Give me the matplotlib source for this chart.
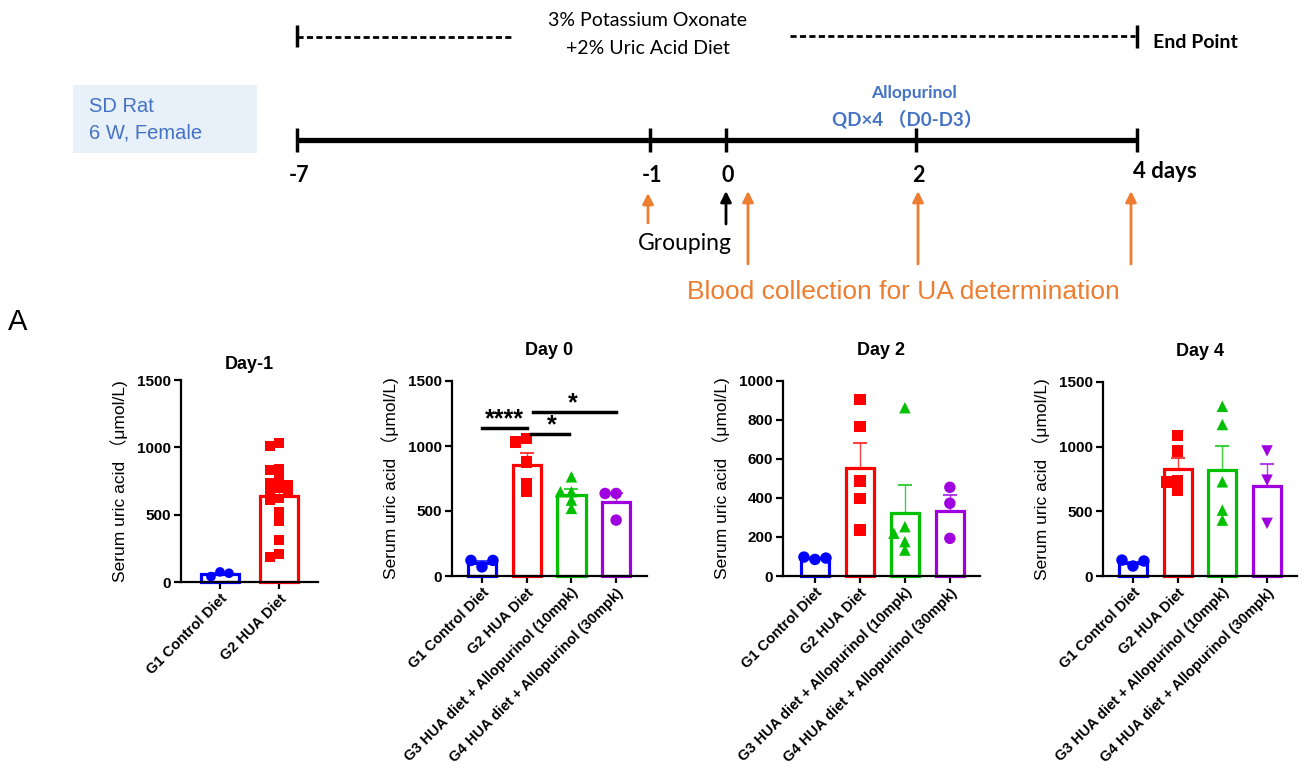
import numpy as np
import matplotlib
matplotlib.use('Agg')
import matplotlib.pyplot as plt
from matplotlib.patches import Rectangle

plt.rcParams['font.family'] = ['Liberation Sans', 'Noto Sans CJK SC', 'DejaVu Sans']

# ---------------- data ----------------
groups = ["G1 Control Diet", "G2 HUA Diet",
          "G3 HUA diet + Allopurinol (10mpk)", "G4 HUA diet + Allopurinol (30mpk)"]

dm1_points = [
    [75, 40, 65],
    [1030, 1010, 840, 830, 770, 740, 720, 700, 680, 660, 620, 610, 520, 450, 310, 210, 185],
]
dm1_mean = [60, 640]
dm1_sem = [10, 60]

d0_points = [
    [70, 120, 120],
    [1057, 1032, 878, 712, 648],
    [763, 648, 648, 584, 520],
    [635, 635, 430],
]
d0_mean = [97, 852, 622, 566]
d0_sem = [15, 95, 50, 69]

d2_points = [
    [85, 97, 92],
    [906, 766, 487, 398, 236],
    [863, 253, 219, 176, 133],
    [455, 373, 193],
]
d2_mean = [90, 556, 325, 333]
d2_sem = [4, 124, 142, 84]

d4_points = [
    [77, 123, 116],
    [1088, 967, 733, 728, 664],
    [1312, 1171, 728, 509, 432],
    [967, 741, 407],
]
d4_mean = [98, 826, 818, 697]
d4_sem = [14, 87, 185, 167]

titles = ["Day-1", "Day 0", "Day 2", "Day 4"]
ylabel = "Serum uric acid （μmol/L)"

colors = ['#0000FF', '#FF0000', '#00C000', '#A000E0']
markers_by_day = [['o', 's'], ['o', 's', '^', 'o'], ['o', 's', '^', 'o'], ['o', 's', '^', 'v']]

# ---------------- figure ----------------
W, H = 1307, 777
fig = plt.figure(figsize=(W / 100, H / 100), dpi=100)

# timeline / scheme axes in pixel coordinates
ax0 = fig.add_axes([0, 0, 1, 1])
ax0.set_xlim(0, W)
ax0.set_ylim(H, 0)
ax0.axis('off')

tl_font = ['Lato', 'Noto Sans CJK SC', 'DejaVu Sans']
orange = '#ED7D31'
blue_txt = '#4472C4'

# diet dashed bar
ax0.plot([297, 297], [25, 47], color='black', lw=2.5, solid_capstyle='butt')
ax0.plot([1137, 1137], [25, 48], color='black', lw=2.5, solid_capstyle='butt')
ax0.plot([297, 513], [37, 37], color='black', lw=2, ls=(0, (2.2, 1.2)))
ax0.plot([790, 1135], [36, 36], color='black', lw=2, ls=(0, (2.2, 1.2)))
ax0.text(648, 21, "3% Potassium Oxonate", ha='center', va='center', fontsize=14, family=tl_font)
ax0.text(648, 49, "+2% Uric Acid Diet", ha='center', va='center', fontsize=14, family=tl_font)
ax0.text(1153, 42, "End Point", ha='left', va='center', fontsize=14, fontweight='bold', family=tl_font)

# SD rat box
ax0.add_patch(Rectangle((73, 85), 184, 68, facecolor='#E8F0F9', edgecolor='none'))
ax0.text(89, 106, "SD Rat", ha='left', va='center', fontsize=14.5, color=blue_txt)
ax0.text(89, 133, "6 W, Female", ha='left', va='center', fontsize=14.5, color=blue_txt)

# main time line
ax0.plot([297, 1137], [140, 140], color='black', lw=3.8, solid_capstyle='butt')
tl_pos = [297, 650, 726, 916, 1137]
tl_lab = ["-7", "-1", "0", "2", "4 days"]
for xp, lab in zip(tl_pos, tl_lab):
    ax0.plot([xp, xp], [128, 152], color='black', lw=2.5, solid_capstyle='butt')
for xp, lab in zip(tl_pos, tl_lab):
    if lab == "4 days":
        ax0.text(xp - 4, 172, lab, ha='left', va='center', fontsize=16, fontweight='bold', family=tl_font)
    else:
        ax0.text(xp + 2, 176, lab, ha='center', va='center', fontsize=15.5, fontweight='bold', family=tl_font)

ax0.text(914, 93, "Allopurinol", ha='center', va='center', fontsize=12.5, fontweight='bold',
         color=blue_txt, family=tl_font)
ax0.text(907, 119, "QD×4 （D0-D3）", ha='center', va='center', fontsize=13.5, fontweight='bold',
         color=blue_txt, family=tl_font)

# arrows
def arrow(x, y0, y1, c, lw=2):
    ax0.annotate('', xy=(x, y1), xytext=(x, y0),
                 arrowprops=dict(arrowstyle='-|>', color=c, lw=lw, mutation_scale=16,
                                 shrinkA=0, shrinkB=0))

arrow(648, 223, 193, orange)
arrow(726, 224, 191, 'black')
arrow(748, 264, 191, orange)
arrow(918, 264, 191, orange)
arrow(1131, 264, 191, orange)
ax0.text(685, 243, "Grouping", ha='center', va='center', fontsize=16.5, family=tl_font)
ax0.text(903, 292, "Blood collection for UA determination", ha='center', va='center',
         fontsize=19, color=orange)
ax0.text(8, 322, "A", ha='left', va='center', fontsize=21)

# ---------------- panels ----------------
panel_px = [  # left, top, right, bottom (pixels)
    (181, 380, 318, 582),
    (452, 381, 647, 576),
    (783, 381, 980, 576),
    (1103, 382, 1297, 576),
]
xlims = [(-0.66, 1.66), (-0.67, 3.69), (-0.71, 3.67), (-0.67, 3.67)]
ylims = [1500, 1500, 1000, 1500]
ysteps = [500, 500, 200, 500]
title_pads = [8, 19, 19, 19]
all_points = [dm1_points, d0_points, d2_points, d4_points]
all_means = [dm1_mean, d0_mean, d2_mean, d4_mean]
all_sems = [dm1_sem, d0_sem, d2_sem, d4_sem]
msizes = [48, 68, 68, 68]


def swarm(vals, xppu, yppu, dx, dy):
    placed = []
    offs = []
    for v in vals:
        for k in [0, -1, 1, -2, 2, -3, 3]:
            o = k * dx / xppu
            ok = True
            for (po, pv) in placed:
                if abs((o - po) * xppu) < dx - 0.5 and abs((v - pv) * yppu) < dy:
                    ok = False
                    break
            if ok:
                break
        placed.append((o, v))
        offs.append(o)
    return np.array(offs)


axes = []
for i in range(4):
    l, t, r, b = panel_px[i]
    ax = fig.add_axes([l / W, 1 - b / H, (r - l) / W, (b - t) / H])
    axes.append(ax)
    pts = all_points[i]
    means = all_means[i]
    sems = all_sems[i]
    n = len(means)
    xs = np.arange(n)
    ax.set_xlim(*xlims[i])
    ax.set_ylim(0, ylims[i])
    xppu = (r - l) / (xlims[i][1] - xlims[i][0])
    yppu = (b - t) / ylims[i]
    for j in range(n):
        ax.bar(xs[j], means[j], width=0.63, facecolor='white', edgecolor=colors[j],
               linewidth=2.3, zorder=2, clip_on=False)
        ax.errorbar(xs[j], means[j], yerr=[[0], [sems[j]]], fmt='none', ecolor=colors[j],
                    elinewidth=1.0, capsize=5, capthick=1.5, zorder=3, alpha=0.75, clip_on=False)
        vals = np.array(pts[j], dtype=float)
        if i > 0:
            offs = swarm(vals, xppu, yppu, 11, 7.5)
        else:
            offs = swarm(vals, xppu, yppu, 9, 7)
        ax.scatter(xs[j] + offs, vals, s=msizes[i], marker=markers_by_day[i][j],
                   color=colors[j], edgecolors='none', zorder=4, clip_on=False)
    ax.set_yticks(np.arange(0, ylims[i] + 1, ysteps[i]))
    ax.set_xticks(xs)
    ax.set_xticklabels(groups[:n], rotation=45, ha='right', rotation_mode='anchor',
                       fontsize=10.5, fontweight='bold')
    for lab in ax.get_yticklabels():
        lab.set_fontweight('bold')
        lab.set_fontsize(11)
    for s in ['top', 'right']:
        ax.spines[s].set_visible(False)
    for s in ['left', 'bottom']:
        ax.spines[s].set_linewidth(1.6)
    ax.tick_params(axis='both', direction='out', length=5, width=1.6, pad=2)
    ax.set_ylabel(ylabel, fontsize=12.5)
    ax.yaxis.set_label_coords(-53 / (r - l), 0.5)
    ax.set_title(titles[i], fontsize=13, fontweight='bold', pad=title_pads[i])
    ax.patch.set_alpha(0)

# significance annotations on Day 0
ax = axes[1]
sig_lines = [((0.0, 1.0), 1142, "****", 0.5, 1112),
             ((1.1, 1.95), 1096, "*", 1.55, 1066),
             ((1.15, 3.0), 1264, "*", 2.03, 1234)]
for (x0, x1), yv, txt, tx, ty in sig_lines:
    ax.plot([x0, x1], [yv, yv], color='black', lw=2.5, clip_on=False, zorder=5)
    ax.text(tx, ty, txt, ha='center', va='bottom', fontsize=18, fontweight='bold')

fig.savefig('out.png', dpi=100)
